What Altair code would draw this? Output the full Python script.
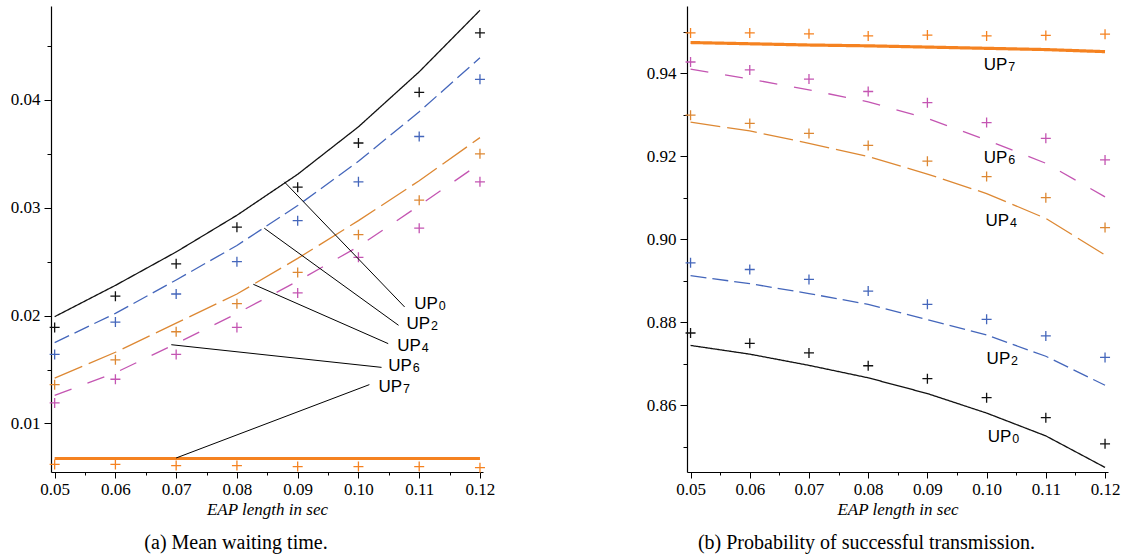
import altair as alt
import pandas as pd

# ---------------- data ----------------
eap_len = [0.05, 0.06, 0.07, 0.08, 0.09, 0.10, 0.11, 0.12]
series_names = ["UP0", "UP2", "UP4", "UP6", "UP7"]
series_digits = ["0", "2", "4", "6", "7"]

# (a) mean waiting time: analytical (lines) and simulation (crosses)
wait_up0_model = [0.0199, 0.0228, 0.0259, 0.0293, 0.0331, 0.0375, 0.0426, 0.0483]
wait_up0_sim = [0.0189, 0.0218, 0.0248, 0.0282, 0.0319, 0.0360, 0.0407, 0.0462]
wait_up2_model = [0.0175, 0.0202, 0.0233, 0.0265, 0.0302, 0.0343, 0.0389, 0.0439]
wait_up2_sim = [0.0164, 0.0194, 0.0220, 0.0250, 0.0288, 0.0324, 0.0366, 0.0419]
wait_up4_model = [0.0142, 0.0166, 0.0193, 0.0220, 0.0253, 0.0288, 0.0325, 0.0365]
wait_up4_sim = [0.0136, 0.0159, 0.0185, 0.0211, 0.0240, 0.0275, 0.0307, 0.0350]
wait_up6_model = [0.0126, 0.0147, 0.0174, 0.0202, 0.0232, 0.0264, 0.0302, 0.0341]
wait_up6_sim = [0.0119, 0.0141, 0.0164, 0.0189, 0.0221, 0.0254, 0.0281, 0.0324]
wait_up7_model = [0.00675, 0.00675, 0.00675, 0.00675, 0.00675, 0.00675, 0.00675, 0.00675]
wait_up7_sim = [0.0062, 0.0062, 0.0061, 0.0061, 0.0060, 0.0060, 0.0060, 0.0059]

# (b) probability of successful transmission
prob_up0_model = [0.8744, 0.8723, 0.8696, 0.8666, 0.8628, 0.8581, 0.8526, 0.8450]
prob_up0_sim = [0.8774, 0.8749, 0.8726, 0.8695, 0.8664, 0.8618, 0.8570, 0.8507]
prob_up2_model = [0.8912, 0.8893, 0.8869, 0.8843, 0.8806, 0.8769, 0.8718, 0.8648]
prob_up2_sim = [0.8943, 0.8927, 0.8903, 0.8875, 0.8843, 0.8807, 0.8767, 0.8715]
prob_up4_model = [0.9282, 0.9261, 0.9231, 0.9199, 0.9157, 0.9110, 0.9050, 0.8962]
prob_up4_sim = [0.9299, 0.9279, 0.9255, 0.9226, 0.9188, 0.9151, 0.9100, 0.9028]
prob_up6_model = [0.9410, 0.9386, 0.9360, 0.9331, 0.9291, 0.9239, 0.9183, 0.9102]
prob_up6_sim = [0.9427, 0.9408, 0.9386, 0.9356, 0.9329, 0.9281, 0.9243, 0.9191]
prob_up7_model = [0.9474, 0.9471, 0.9468, 0.9466, 0.9463, 0.9460, 0.9457, 0.9452]
prob_up7_sim = [0.9497, 0.9497, 0.9495, 0.9490, 0.9492, 0.9490, 0.9491, 0.9494]

# annotations (data coordinates)
wait_leader_x_from = [0.0878, 0.0845, 0.0827, 0.0692, 0.0700]
wait_leader_y_from = [0.0324, 0.0281, 0.0229, 0.0173, 0.0068]
wait_leader_x_to = [0.1076, 0.1066, 0.1049, 0.1038, 0.1018]
wait_leader_y_to = [0.0208, 0.0191, 0.0174, 0.0152, 0.0136]
wait_label_x = [0.1092, 0.1079, 0.1064, 0.1049, 0.1033]
wait_label_y = [0.0211, 0.0192, 0.0172, 0.0153, 0.0134]

prob_label_x = [0.1002, 0.1000, 0.0998, 0.0995, 0.0995]
prob_label_y = [0.8523, 0.8712, 0.9044, 0.9195, 0.9420]

x_ticks = [0.05, 0.055, 0.06, 0.065, 0.07, 0.075, 0.08, 0.085, 0.09, 0.095, 0.10, 0.105, 0.11, 0.115, 0.12]
wait_ticks = [0.01, 0.015, 0.02, 0.025, 0.03, 0.035, 0.04, 0.045]
prob_ticks = [0.85, 0.86, 0.87, 0.88, 0.89, 0.90, 0.91, 0.92, 0.93, 0.94, 0.95]

# ---------------- styles ----------------
colors = ["#111111", "#4466bb", "#dd8833", "#c455b2", "#f58220"]
dashes = [[1, 0], [16, 6], [30, 7], [18, 17], [1, 0]]
SERIF = "Liberation Serif"
SANS = "Liberation Sans"
LABEL_SIZE = 17
DIGIT_SIZE = 12.5


def long_frame(model_lists, sim_lists):
    rows = []
    for name, m, s in zip(series_names, model_lists, sim_lists):
        for x, mv, sv in zip(eap_len, m, s):
            rows.append({"series": name, "x": x, "model": mv, "sim": sv})
    return pd.DataFrame(rows)


wait_df = long_frame(
    [wait_up0_model, wait_up2_model, wait_up4_model, wait_up6_model, wait_up7_model],
    [wait_up0_sim, wait_up2_sim, wait_up4_sim, wait_up6_sim, wait_up7_sim],
)
prob_df = long_frame(
    [prob_up0_model, prob_up2_model, prob_up4_model, prob_up6_model, prob_up7_model],
    [prob_up0_sim, prob_up2_sim, prob_up4_sim, prob_up6_sim, prob_up7_sim],
)
wait_ann = pd.DataFrame({
    "prefix": ["UP"] * 5, "digit": series_digits,
    "x1": wait_leader_x_from, "y1": wait_leader_y_from,
    "x2": wait_leader_x_to, "y2": wait_leader_y_to, "lx": wait_label_x, "ly": wait_label_y,
})
prob_ann = pd.DataFrame({"prefix": ["UP"] * 5, "digit": series_digits,
                         "lx": prob_label_x, "ly": prob_label_y})

color_enc = alt.Color("series:N", scale=alt.Scale(domain=series_names, range=colors), legend=None)
dash_enc = alt.StrokeDash("series:N", scale=alt.Scale(domain=series_names, range=dashes), legend=None)
width_enc = alt.condition(alt.datum.series == "UP7", alt.value(3.2), alt.value(1.3))

axis_style = dict(
    labelFont=SERIF, labelFontSize=17, labelColor="black",
    titleFont=SERIF, titleFontSize=17, titleFontStyle="italic", titleFontWeight="normal",
    titleColor="black", domainColor="black", tickColor="black", domainWidth=1.2, grid=False,
)

x_minor = "round(datum.value*1000) % 10 != 0"
x_axis = alt.Axis(
    values=x_ticks, title="EAP length in sec",
    labelExpr=f"({x_minor}) ? '' : format(datum.value, '.2f')",
    tickSize={"condition": {"test": x_minor, "value": 3}, "value": 6},
    labelPadding=3, titlePadding=4, **axis_style,
)
x_scale = alt.Scale(domain=[0.0494, 0.1205], nice=False, zero=False)

cross = "M-1,0L1,0M0,-1L0,1"


def panel(df, y_domain, y_ticks, y_minor_test, caption, ann, leaders):
    y_axis = alt.Axis(
        values=y_ticks, title=None,
        labelExpr=f"({y_minor_test}) ? '' : format(datum.value, '.2f')",
        tickSize={"condition": {"test": y_minor_test, "value": 4}, "value": 7},
        labelPadding=4, **axis_style,
    )
    y_scale = alt.Scale(domain=y_domain, nice=False, zero=False)
    X = lambda f: alt.X(f, scale=x_scale, axis=x_axis)
    Y = lambda f: alt.Y(f, scale=y_scale, axis=y_axis)
    base = alt.Chart(df)
    lines = base.mark_line(clip=True).encode(
        x=X("x:Q"), y=Y("model:Q"),
        color=color_enc, strokeDash=dash_enc, strokeWidth=width_enc,
    )
    pts = base.mark_point(shape=cross, size=100, strokeWidth=1.3, filled=False, opacity=1).encode(
        x=X("x:Q"), y=Y("sim:Q"), color=color_enc,
    )
    layers = [lines, pts]
    if leaders:
        rules = alt.Chart(ann).mark_rule(color="black", strokeWidth=1).encode(
            x=X("x1:Q"), y=Y("y1:Q"), x2="x2:Q", y2="y2:Q",
        )
        layers.append(rules)
    prefix = alt.Chart(ann).mark_text(
        align="left", baseline="middle", font=SANS, fontSize=LABEL_SIZE, color="black"
    ).encode(x=X("lx:Q"), y=Y("ly:Q"), text="prefix:N")
    digit = alt.Chart(ann).mark_text(
        align="left", baseline="middle", font=SANS, fontSize=DIGIT_SIZE, color="black",
        dx=24.5, dy=2,
    ).encode(x=X("lx:Q"), y=Y("ly:Q"), text="digit:N")
    layers += [prefix, digit]
    return alt.layer(*layers).properties(
        title=alt.TitleParams(caption, orient="bottom", font=SERIF, fontSize=20,
                              fontWeight="normal", color="black", offset=16, dx=-31),
    )


left = panel(wait_df, [0.0055, 0.0487], wait_ticks, "round(datum.value*1000) % 10 != 0",
             "(a) Mean waiting time.", wait_ann, True).properties(width=432, height=466)
right = panel(prob_df, [0.8439, 0.9562], prob_ticks, "round(datum.value*100) % 2 != 0",
              "(b) Probability of successful transmission.", prob_ann, False).properties(width=421, height=466)

chart = alt.hconcat(left, right, spacing=151).properties(
    padding={"left": 10, "top": 6, "right": 5, "bottom": 2}
).configure_view(stroke=None)

chart.save("out.html", embed_options={"renderer": "svg", "actions": False})
